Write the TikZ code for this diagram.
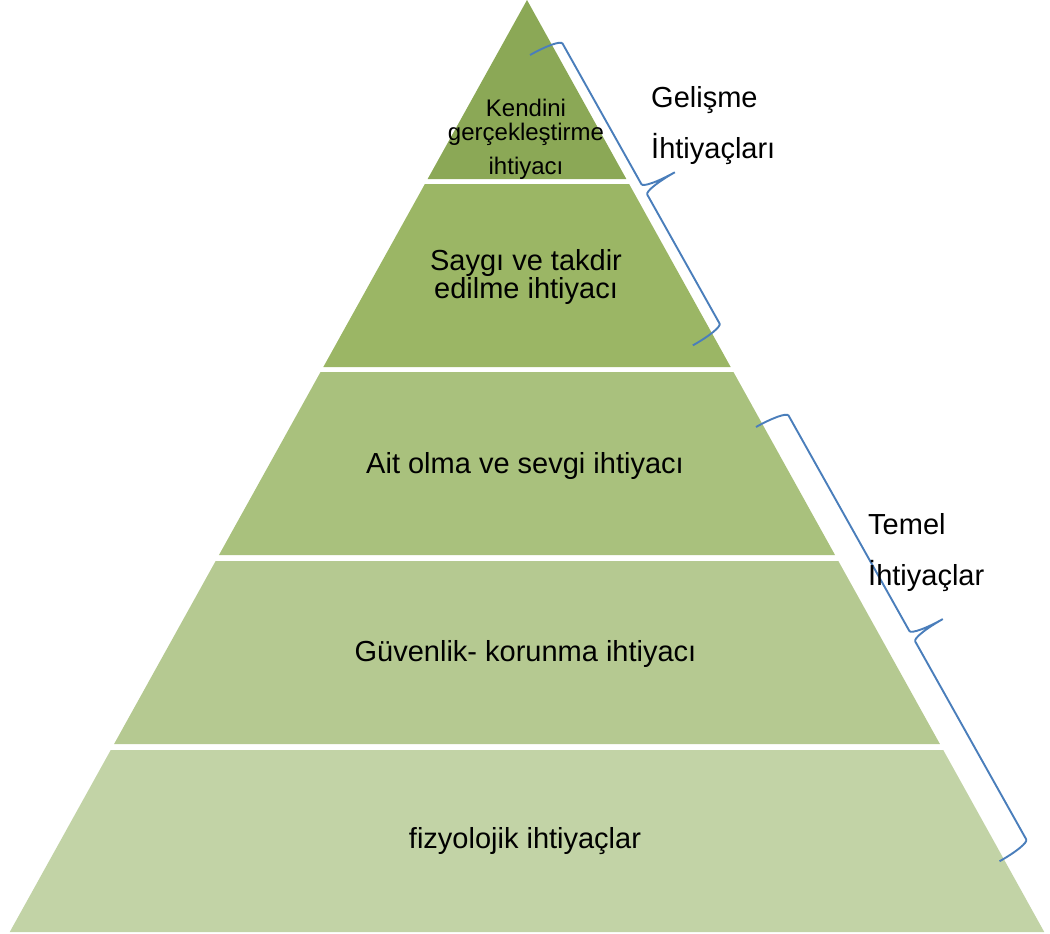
\documentclass[tikz,border=0pt]{standalone}
\usepackage{fontspec}
\setmainfont{Liberation Sans}
\usepackage{tikz}
\definecolor{lvlA}{HTML}{8BA856}
\definecolor{lvlB}{HTML}{9BB665}
\definecolor{lvlC}{HTML}{A9C17D}
\definecolor{lvlD}{HTML}{B5C991}
\definecolor{lvlE}{HTML}{C2D3A6}
\definecolor{braceblue}{HTML}{4A7EBB}

\begin{document}
\begin{tikzpicture}[x=1pt, y=-1pt,
  lvltext/.style={font=\fontsize{29}{28}\selectfont, inner sep=0pt},
  sidetext/.style={font=\fontsize{29}{51}\selectfont, align=left, inner sep=0pt, anchor=west},
  bracket/.style={draw=braceblue, line width=1.9pt}]
  \useasboundingbox (0,0) rectangle (1050,934);
  % pyramid layers
  \foreach \t/\b/\c in {0/179/lvlA, 184/367/lvlB, 372/555/lvlC, 561/744/lvlD, 750/932/lvlE}
    \fill[\c] ({527-0.555*\t},\t) -- ({527+0.555*\t},\t) -- ({527+0.555*\b},\b) -- ({527-0.555*\b},\b) -- cycle;
  \begin{scope}
    \clip (400,0) rectangle (660,179);
    \node[font=\fontsize{24}{24}\selectfont, align=center, inner sep=0pt] (kendini) at (526,139.6) {Kendini\\gerçekleştirme\\[10pt]ihtiyacı};
  \end{scope}
  \node[lvltext, align=center] (saygi) at (526,276.6) {Saygı ve takdir\\edilme ihtiyacı};
  \node[lvltext, anchor=base] (ait) at (525,473) {Ait olma ve sevgi ihtiyacı};
  \node[lvltext, anchor=base] (guvenlik) at (525.5,661) {Güvenlik- korunma ihtiyacı};
  \node[lvltext, anchor=base] (fizyo) at (525,848) {fizyolojik ihtiyaçlar};
  % braces
  \foreach \sx/\sy/\len in {530/55/333, 756/427/498} {
    \pgfmathsetmacro\m{0.52*\len}
    \begin{scope}[shift={(\sx,\sy)}, x={(0.489pt,-0.872pt)}, y={(0.872pt,0.489pt)}]
      \draw[bracket] (0,0) .. controls (0,19) and (2.5,34) .. (6,34) -- ({\m-6},34)
        .. controls ({\m-2.5},34) and (\m,50) .. (\m,69)
        .. controls (\m,50) and ({\m+2.5},34) .. ({\m+6},34) -- ({\len-6},34)
        .. controls ({\len-2.5},34) and (\len,19) .. (\len,0);
    \end{scope}
  }
  \node[sidetext] (gelisme) at (651,126) {Gelişme\\İhtiyaçları};
  \node[sidetext] (temel) at (868,552.6) {Temel\\İhtiyaçlar};
\end{tikzpicture}
\end{document}
